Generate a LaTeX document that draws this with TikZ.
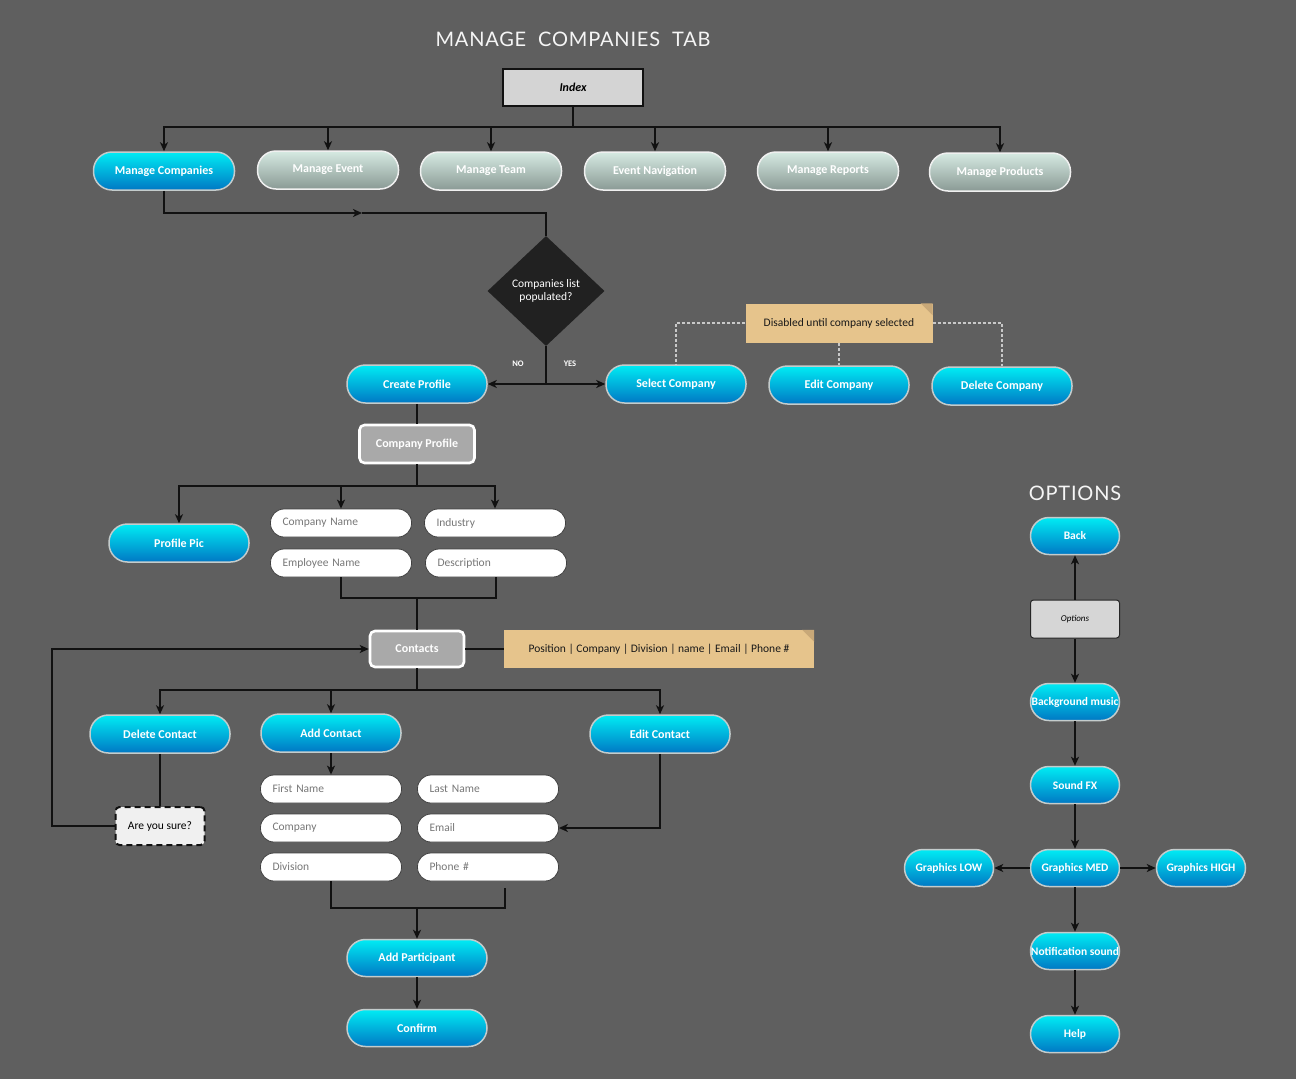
\documentclass[tikz,border=0pt]{standalone}
\usepackage{fontspec}
\setmainfont{Carlito}
\newfontfamily\titlefont{Lato}[LetterSpace=4]
\usetikzlibrary{arrows.meta,shapes.geometric,calc}
\definecolor{bg}{HTML}{5F5F5F}
\definecolor{cyantop}{HTML}{00ECF4}
\definecolor{cyanbot}{HTML}{0078C4}
\definecolor{pillborder}{HTML}{C4CCCC}
\definecolor{graytop}{HTML}{D6EAE2}
\definecolor{graybot}{HTML}{8A9A95}
\definecolor{notefill}{HTML}{E6C48C}
\definecolor{notefold}{HTML}{C8A878}
\definecolor{boxgray}{HTML}{A9A9A9}
\definecolor{linecol}{HTML}{111111}
\definecolor{fieldtext}{HTML}{777777}
\definecolor{dotcol}{HTML}{C8C8C8}
\begin{document}
\begin{tikzpicture}[x=1pt,y=-1pt,
  line/.style={draw=linecol,line width=1.8pt},
  arr/.style={line,-{Stealth[length=9pt,width=8pt,inset=2.5pt]}},
  dot/.style={draw=dotcol,line width=1.3pt,dash pattern=on 3pt off 2pt},
  cyanpill/.style={rectangle,rounded corners=18.5pt,top color=cyantop,bottom color=cyanbot,draw=pillborder,line width=1.5pt,minimum width=141pt,minimum height=38pt,inner sep=0pt,text=white,font=\fontsize{12}{14}\selectfont\bfseries},
  smallpill/.style={cyanpill,minimum width=89pt,minimum height=37pt,font=\fontsize{11.5}{13}\selectfont\bfseries},
  graypill/.style={cyanpill,top color=graytop,bottom color=graybot,draw=white!88!gray},
  field/.style={rectangle,rounded corners=13.5pt,fill=white,draw=black!75,line width=0.8pt,text width=117pt,inner xsep=12pt,inner ysep=0pt,minimum height=28pt,align=left,text=fieldtext,font=\fontsize{11.5}{13}\selectfont},
  graybox/.style={rectangle,rounded corners=5pt,fill=boxgray,draw=white,line width=2.6pt,inner sep=0pt,text=white,font=\fontsize{12}{14}\selectfont\bfseries},
  notebox/.style={rectangle,fill=notefill,inner sep=0pt,text=black!90,font=\fontsize{11.5}{13}\selectfont},
  lbl/.style={text=white,font=\fontsize{8.5}{10}\selectfont\bfseries},
  titletext/.style={text=white!92!gray,font=\titlefont\fontsize{20}{24}\selectfont}
]
\useasboundingbox (0,0) rectangle (1296,1079);
\fill[bg] (0,0) rectangle (1296,1079);

% Title
\node[titletext] (title) at (573,39) {MANAGE\hspace{6pt} COMPANIES\hspace{6pt} TAB};

% Index
\node[rectangle,fill=black!17,draw=linecol,line width=2pt,minimum width=140pt,minimum height=37pt,inner sep=0pt,font=\fontsize{12}{14}\selectfont\bfseries\itshape] (idx) at (573,87) {Index};

% Nav buttons
\node[cyanpill] (mc) at (164,171) {Manage Companies};
\node[graypill] (me) at (328,170) {Manage Event};
\node[graypill] (mt) at (491,171) {Manage Team};
\node[graypill] (en1) at (655,171) {Event Navigation};
\node[graypill] (mr) at (828,171) {Manage Reports};
\node[graypill] (mp) at (1000,172) {Manage Products};

\coordinate (bus) at (573,127);
\draw[line] (idx.south) -- (bus);
\foreach \n in {mc,me,mt,en1,mr,mp} { \draw[arr] (bus) -| (\n.north); }

% Diamond
\node[diamond,fill=black!87,aspect=1.05,minimum width=117pt,minimum height=110pt,inner sep=0pt,align=center,text=white,font=\fontsize{11.5}{13}\selectfont] (dia) at (546,291) {Companies list\\populated?};
\coordinate (c1) at (362,213);
\draw[arr] (mc.south) |- (c1);
\draw[line] (c1) -| (dia.north);

% Create / Select / Edit / Delete
\node[cyanpill,minimum width=140pt] (cp) at (417,384) {Create Profile};
\node[cyanpill,minimum width=140pt] (sel) at (676,384) {Select Company};
\node[cyanpill,minimum width=140pt] (ec) at (839,385) {Edit Company};
\node[cyanpill,minimum width=140pt] (dc) at (1002,386) {Delete Company};
\coordinate (dj) at (546,384);
\draw[line] (dia.south) -- (dj);
\draw[arr] (dj) -- (cp.east);
\draw[arr] (dj) -- (sel.west);
\node[lbl] (no) at (518,364) {NO};
\node[lbl] (yes) at (570,364) {YES};

% Note 1
\node[notebox,minimum width=187pt,minimum height=39pt] (n1) at (839,323) {Disabled until company selected};
\fill[notefold] ($(n1.north east)+(-12,0)$) -- (n1.north east) -- ($(n1.north east)+(0,12)$) -- cycle;
\draw[dot] (n1.west) -| (sel.north);
\draw[dot] (n1.south) -- (ec.north);
\draw[dot] (n1.east) -| (dc.north);

% Company profile
\node[graybox,minimum width=115pt,minimum height=38pt] (cprof) at (417,444) {Company Profile};
\draw[line] (cp.south) -- (cprof.north);
\node[cyanpill,minimum width=140pt] (pp) at (179,543) {Profile Pic};
\node[field] (cn) at (341,523) {Company Name};
\node[field] (ind) at (495,523) {Industry};
\node[field] (emp) at (341,563) {Employee Name};
\node[field] (desc) at (496,563) {Description};
\coordinate (b2) at (417,486);
\draw[line] (cprof.south) -- (b2);
\draw[arr] (b2) -| (pp.north);
\draw[arr] (b2) -| (cn.north);
\draw[arr] (b2) -| (ind.north);

\coordinate (m1) at (417,598);
\draw[line] (emp.south) |- (m1);
\draw[line] (desc.south) |- (m1);

% Contacts
\node[graybox,minimum width=94pt,minimum height=36pt] (ct) at (417,649) {Contacts};
\draw[line] (m1) -- (ct.north);
\node[notebox,minimum width=310pt,minimum height=38pt] (n2) at (659,649) {Position | Company | Division | name | Email | Phone \#};
\fill[notefold] ($(n2.north east)+(-12,0)$) -- (n2.north east) -- ($(n2.north east)+(0,12)$) -- cycle;
\draw[line] (ct.east) -- (n2.west);

\node[cyanpill,minimum width=140pt] (dcn) at (160,734) {Delete Contact};
\node[cyanpill,minimum width=140pt] (acn) at (331,733) {Add Contact};
\node[cyanpill,minimum width=140pt] (ecn) at (660,734) {Edit Contact};
\coordinate (b3) at (417,690);
\draw[line] (ct.south) -- (b3);
\draw[arr] (b3) -| (dcn.north);
\draw[arr] (b3) -| (acn.north);
\draw[arr] (b3) -| (ecn.north);

\node[rectangle,rounded corners=4pt,fill=black!6,draw=linecol,line width=2pt,dash pattern=on 6pt off 4pt,minimum width=89pt,minimum height=38pt,inner sep=0pt,font=\fontsize{11.5}{13}\selectfont] (ays) at (160,826) {Are you sure?};
\draw[line] (dcn.south) -- (ays.north);
\coordinate (lp) at (52,649);
\draw[arr] (ays.west) -| (lp) -- (ct.west);

% Contact fields
\node[field] (fn) at (331,789) {First Name};
\node[field] (ln) at (488,789) {Last Name};
\node[field] (co) at (331,828) {Company};
\node[field] (em) at (488,828) {Email};
\node[field] (dv) at (331,867) {Division};
\node[field] (ph) at (488,867) {Phone \#};
\draw[arr] (acn.south) -- (fn.north);
\draw[arr] (ecn.south) |- (em.east);

\coordinate (m2) at (417,908);
\coordinate (ph2) at (505,888);
\draw[line] (dv.south) |- (m2);
\draw[line] (m2) -| (ph2);

\node[cyanpill,minimum width=140pt,minimum height=37pt] (ap) at (417,958) {Add Participant};
\node[cyanpill,minimum width=140pt,minimum height=37pt] (cf) at (417,1028) {Confirm};
\draw[arr] (m2) -- (ap.north);
\draw[arr] (ap.south) -- (cf.north);

% Options panel
\node[titletext] (opt) at (1075,493) {OPTIONS};
\node[smallpill] (back) at (1075,536) {Back};
\node[rectangle,rounded corners=3pt,fill=black!16,draw=black!85,line width=1pt,minimum width=89pt,minimum height=38pt,inner sep=0pt,font=\fontsize{9}{11}\selectfont\itshape] (obox) at (1075,619) {Options};
\node[smallpill] (bgm) at (1075,702) {Background music};
\node[smallpill] (sfx) at (1075,785) {Sound FX};
\node[smallpill] (gmed) at (1075,868) {Graphics MED};
\node[smallpill] (glow) at (949,868) {Graphics LOW};
\node[smallpill] (ghigh) at (1201,868) {Graphics HIGH};
\node[smallpill] (ns) at (1075,951) {Notification sound};
\node[smallpill] (help) at (1075,1034) {Help};
\draw[arr] (obox.north) -- (back.south);
\draw[arr] (obox.south) -- (bgm.north);
\draw[arr] (bgm.south) -- (sfx.north);
\draw[arr] (sfx.south) -- (gmed.north);
\draw[arr] (gmed.west) -- (glow.east);
\draw[arr] (gmed.east) -- (ghigh.west);
\draw[arr] (gmed.south) -- (ns.north);
\draw[arr] (ns.south) -- (help.north);
\end{tikzpicture}
\end{document}
